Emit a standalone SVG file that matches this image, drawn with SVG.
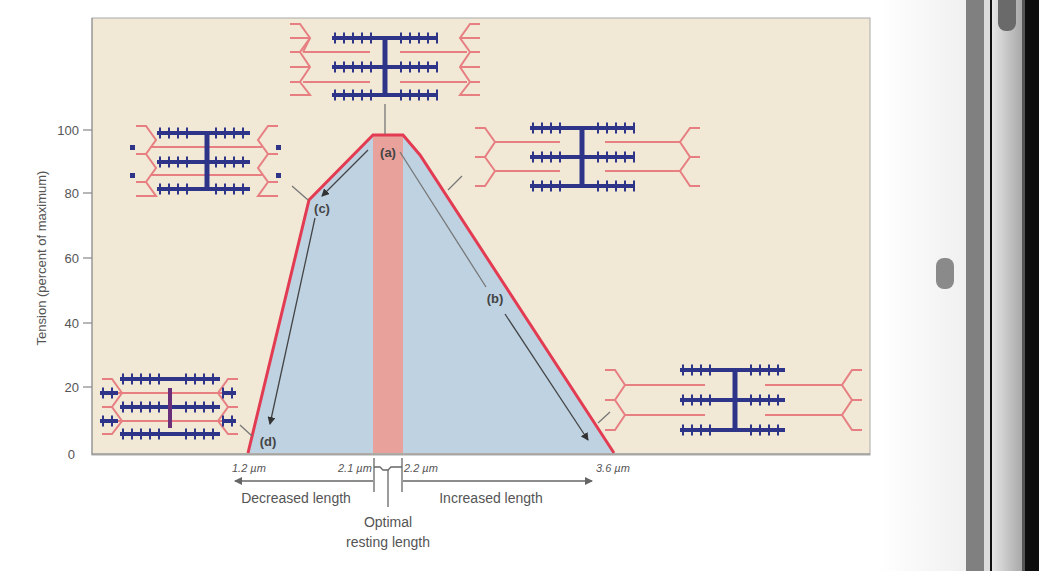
<svg xmlns="http://www.w3.org/2000/svg" width="1039" height="571" viewBox="0 0 1039 571">
<defs>
<style>
.t{font-family:"Liberation Sans",Arial,sans-serif;fill:#555}
.my{stroke:#2e3589;stroke-width:4;fill:none}
.hd{stroke:#2e3589;stroke-width:11;stroke-dasharray:2 7;fill:none}
.ac{stroke:#e77f82;stroke-width:2;fill:none}
.ml{stroke:#2e3589;stroke-width:5}
.gl{stroke:#777;stroke-width:1.3;fill:none}
.ar{stroke:#444;stroke-width:1.3;fill:none;marker-end:url(#ah)}
</style>
<marker id="ah" markerWidth="8" markerHeight="8" refX="7" refY="4" orient="auto" markerUnits="userSpaceOnUse"><path d="M0,0 L8,4 L0,8 Z" fill="#333"/></marker>
<marker id="ah2" markerWidth="8" markerHeight="8" refX="7" refY="4" orient="auto" markerUnits="userSpaceOnUse"><path d="M0,0 L8,4 L0,8 Z" fill="#666"/></marker>
<linearGradient id="fade" x1="0" x2="1"><stop offset="0" stop-color="#fff"/><stop offset="1" stop-color="#f0f0f0"/></linearGradient>
<linearGradient id="fr" x1="0" x2="1"><stop offset="0" stop-color="#e6e6e6"/><stop offset="1" stop-color="#a8a8a8"/></linearGradient>
</defs>
<rect width="1039" height="571" fill="#fff"/>
<rect x="880" width="86" height="571" fill="url(#fade)"/>
<rect x="966" width="18" height="571" fill="#808080"/>
<rect x="984" width="6" height="571" fill="#dcdcdc"/>
<rect x="990" width="2" height="571" fill="#111"/>
<rect x="992" width="30" height="571" fill="url(#fr)"/>
<rect x="1022" width="3" height="571" fill="#555"/>
<rect x="1025" width="14" height="571" fill="#0d0d0d"/>
<rect x="998" y="-10" width="18" height="41" rx="8" fill="#6a6a6a"/>
<rect x="936" y="258" width="18" height="31" rx="8" fill="#8a8a8a"/>

<g id="panel">
<rect x="92" y="18" width="778" height="437" fill="#f1e9d6" stroke="#aaa" stroke-width="1"/>
<polygon points="248,453 309,200 373,135 403,135 420,155 614,453" fill="#bed2e2"/>
<rect x="373" y="135" width="30" height="318" fill="#e9a19c"/>
<polyline points="248,453 309,200 373,135 403,135 420,155 614,453" fill="none" stroke="#e23b52" stroke-width="3"/>
<line x1="92" y1="454" x2="870" y2="454" stroke="#999" stroke-width="1.5"/>
</g>

<g id="axis">
<line x1="92" y1="18" x2="92" y2="455" stroke="#999" stroke-width="1.2"/>
<g stroke="#888" stroke-width="1.2">
<line x1="83" y1="130" x2="92" y2="130"/><line x1="83" y1="193" x2="92" y2="193"/><line x1="83" y1="258" x2="92" y2="258"/><line x1="83" y1="323" x2="92" y2="323"/><line x1="83" y1="387" x2="92" y2="387"/>
</g>
<g class="t" font-size="13" text-anchor="end">
<text x="79" y="135">100</text><text x="79" y="198">80</text><text x="79" y="263">60</text><text x="79" y="328">40</text><text x="79" y="392">20</text><text x="75" y="459">0</text>
</g>
<text class="t" font-size="13" text-anchor="middle" transform="translate(46,258) rotate(-90)">Tension (percent of maximum)</text>
</g>

<g id="sarc-a">
<polyline class="ac" points="290,24 300,24 310,38 300,52 310,67 300,82 310,95 300,95 290,95"/>
<polyline class="ac" points="300,52 290,52"/><polyline class="ac" points="300,82 290,82"/>
<polyline class="ac" points="310,38 303,52"/>
<line class="ac" x1="303" y1="52" x2="370" y2="52"/><line class="ac" x1="303" y1="82" x2="370" y2="82"/>
<polyline class="ac" points="480,24 470,24 460,38 470,52 460,67 470,82 460,95 470,95 480,95"/>
<polyline class="ac" points="470,52 480,52"/><polyline class="ac" points="470,82 480,82"/>
<line class="ac" x1="467" y1="52" x2="400" y2="52"/><line class="ac" x1="467" y1="82" x2="400" y2="82"/>
<line class="ac" x1="290" y1="38" x2="310" y2="38"/><line class="ac" x1="290" y1="67" x2="310" y2="67"/><line class="ac" x1="460" y1="38" x2="480" y2="38"/><line class="ac" x1="460" y1="67" x2="480" y2="67"/>
<g><line class="my" x1="332" y1="38" x2="438" y2="38"/><line class="my" x1="332" y1="67" x2="438" y2="67"/><line class="my" x1="332" y1="95" x2="438" y2="95"/>
<line class="hd" x1="334" y1="38" x2="372" y2="38"/><line class="hd" x1="400" y1="38" x2="438" y2="38"/>
<line class="hd" x1="334" y1="67" x2="372" y2="67"/><line class="hd" x1="400" y1="67" x2="438" y2="67"/>
<line class="hd" x1="334" y1="95" x2="372" y2="95"/><line class="hd" x1="400" y1="95" x2="438" y2="95"/>
<line class="ml" x1="385" y1="38" x2="385" y2="95"/></g>
<line class="gl" x1="385" y1="104" x2="385" y2="134"/>
</g>

<g id="sarc-c">
<polyline class="ac" points="136,126 146,126 156,140 146,154 156,168 146,182 156,196 146,196 136,196"/>
<line class="ac" x1="136" y1="154" x2="146" y2="154"/><line class="ac" x1="136" y1="182" x2="146" y2="182"/>
<line class="ac" x1="150" y1="147" x2="250" y2="147"/><line class="ac" x1="150" y1="175" x2="250" y2="175"/>
<polyline class="ac" points="278,126 268,126 258,140 268,154 258,168 268,182 258,196 268,196 278,196"/>
<line class="ac" x1="268" y1="154" x2="278" y2="154"/><line class="ac" x1="268" y1="182" x2="278" y2="182"/>
<line class="ac" x1="262" y1="147" x2="165" y2="147"/><line class="ac" x1="262" y1="175" x2="165" y2="175"/>
<line class="my" x1="157" y1="133" x2="250" y2="133"/><line class="my" x1="157" y1="162" x2="250" y2="162"/><line class="my" x1="157" y1="189" x2="250" y2="189"/>
<line class="hd" x1="159" y1="133" x2="195" y2="133"/><line class="hd" x1="215" y1="133" x2="250" y2="133"/>
<line class="hd" x1="159" y1="162" x2="195" y2="162"/><line class="hd" x1="215" y1="162" x2="250" y2="162"/>
<line class="hd" x1="159" y1="189" x2="195" y2="189"/><line class="hd" x1="215" y1="189" x2="250" y2="189"/>
<line class="ml" x1="207" y1="133" x2="207" y2="189"/>
<g fill="#2e3589"><rect x="130" y="145" width="5" height="5"/><rect x="130" y="173" width="5" height="5"/><rect x="276" y="145" width="5" height="5"/><rect x="276" y="173" width="5" height="5"/></g>
<line class="gl" x1="292" y1="186" x2="308" y2="200"/>
</g>

<g id="sarc-b">
<polyline class="ac" points="475,128 485,128 495,142 485,157 495,171 485,186 475,186"/>
<line class="ac" x1="475" y1="157" x2="485" y2="157"/>
<line class="ac" x1="495" y1="142" x2="560" y2="142"/><line class="ac" x1="495" y1="171" x2="560" y2="171"/>
<polyline class="ac" points="700,128 690,128 680,142 690,157 680,171 690,186 700,186"/>
<line class="ac" x1="690" y1="157" x2="700" y2="157"/>
<line class="ac" x1="680" y1="142" x2="605" y2="142"/><line class="ac" x1="680" y1="171" x2="605" y2="171"/>
<line class="my" x1="530" y1="128" x2="635" y2="128"/><line class="my" x1="530" y1="157" x2="635" y2="157"/><line class="my" x1="530" y1="186" x2="635" y2="186"/>
<line class="hd" x1="532" y1="128" x2="568" y2="128"/><line class="hd" x1="597" y1="128" x2="635" y2="128"/>
<line class="hd" x1="532" y1="157" x2="568" y2="157"/><line class="hd" x1="597" y1="157" x2="635" y2="157"/>
<line class="hd" x1="532" y1="186" x2="568" y2="186"/><line class="hd" x1="597" y1="186" x2="635" y2="186"/>
<line class="ml" x1="582" y1="128" x2="582" y2="186"/>
<line class="gl" x1="448" y1="190" x2="462" y2="176"/>
</g>

<g id="sarc-far">
<polyline class="ac" points="605,370 615,370 625,385 615,400 625,415 615,430 605,430"/>
<line class="ac" x1="605" y1="400" x2="615" y2="400"/>
<line class="ac" x1="625" y1="385" x2="705" y2="385"/><line class="ac" x1="625" y1="415" x2="705" y2="415"/>
<polyline class="ac" points="862,370 852,370 842,385 852,400 842,415 852,430 862,430"/>
<line class="ac" x1="852" y1="400" x2="862" y2="400"/>
<line class="ac" x1="842" y1="385" x2="765" y2="385"/><line class="ac" x1="842" y1="415" x2="765" y2="415"/>
<line class="my" x1="680" y1="370" x2="785" y2="370"/><line class="my" x1="680" y1="400" x2="785" y2="400"/><line class="my" x1="680" y1="430" x2="785" y2="430"/>
<line class="hd" x1="682" y1="370" x2="718" y2="370"/><line class="hd" x1="750" y1="370" x2="785" y2="370"/>
<line class="hd" x1="682" y1="400" x2="718" y2="400"/><line class="hd" x1="750" y1="400" x2="785" y2="400"/>
<line class="hd" x1="682" y1="430" x2="718" y2="430"/><line class="hd" x1="750" y1="430" x2="785" y2="430"/>
<line class="ml" x1="735" y1="370" x2="735" y2="430"/>
<line class="gl" x1="598" y1="423" x2="610" y2="412"/>
</g>

<g id="sarc-d">
<polyline class="ac" points="102,379 112,379 122,393 112,407 122,421 112,434 102,434"/>
<line class="ac" x1="102" y1="407" x2="112" y2="407"/>
<line class="ac" x1="118" y1="393" x2="235" y2="393"/><line class="ac" x1="118" y1="421" x2="235" y2="421"/>
<polyline class="ac" points="238,379 228,379 218,393 228,407 218,421 228,434 238,434"/>
<line class="ac" x1="228" y1="407" x2="238" y2="407"/>
<line class="my" x1="120" y1="379" x2="220" y2="379"/><line class="my" x1="120" y1="407" x2="220" y2="407"/><line class="my" x1="120" y1="434" x2="220" y2="434"/>
<line class="hd" x1="122" y1="379" x2="160" y2="379"/><line class="hd" x1="185" y1="379" x2="220" y2="379"/>
<line class="hd" x1="122" y1="407" x2="160" y2="407"/><line class="hd" x1="185" y1="407" x2="220" y2="407"/>
<line class="hd" x1="122" y1="434" x2="160" y2="434"/><line class="hd" x1="185" y1="434" x2="220" y2="434"/>
<line class="my" x1="100" y1="393" x2="118" y2="393"/><line class="hd" x1="102" y1="393" x2="118" y2="393"/>
<line class="my" x1="100" y1="421" x2="118" y2="421"/><line class="hd" x1="102" y1="421" x2="118" y2="421"/>
<line class="my" x1="222" y1="393" x2="236" y2="393"/><line class="hd" x1="222" y1="393" x2="236" y2="393"/>
<line class="my" x1="222" y1="421" x2="236" y2="421"/><line class="hd" x1="222" y1="421" x2="236" y2="421"/>
<line x1="170" y1="388" x2="170" y2="428" stroke="#6a2f7a" stroke-width="4"/>
<line class="gl" x1="240" y1="425" x2="252" y2="436"/>
</g>

<g id="connectors">
<line class="ar" x1="368" y1="150" x2="322" y2="196"/>
<line class="ar" x1="315" y1="218" x2="270" y2="424"/>
<line class="gl" x1="400" y1="152" x2="486" y2="287"/>
<line class="ar" x1="505" y1="314" x2="588" y2="440"/>
</g>

<g id="labels" class="t" font-size="13" font-weight="bold">
<text x="388" y="157" text-anchor="middle" fill="#444">(a)</text>
<text x="322" y="213" text-anchor="middle" fill="#444">(c)</text>
<text x="495" y="303" text-anchor="middle" fill="#444">(b)</text>
<text x="268" y="446" text-anchor="middle" fill="#444">(d)</text>
</g>

<g id="bottom">
<g class="t" font-size="11" font-style="italic">
<text x="232" y="472">1.2 µm</text><text x="338" y="472">2.1 µm</text><text x="404" y="472">2.2 µm</text><text x="596" y="472">3.6 µm</text>
</g>
<line x1="373" y1="481" x2="235" y2="481" stroke="#666" stroke-width="1.3" marker-end="url(#ah2)"/>
<line x1="403" y1="481" x2="592" y2="481" stroke="#666" stroke-width="1.3" marker-end="url(#ah2)"/>
<g stroke="#666" stroke-width="1.3" fill="none">
<line x1="374" y1="458" x2="374" y2="492"/><line x1="402" y1="458" x2="402" y2="492"/>
<polyline points="374,467 380,467 383,470 388,470 391,467 402,467"/>
<line x1="388" y1="470" x2="388" y2="507"/>
</g>
<g class="t" font-size="14" text-anchor="middle">
<text x="296" y="503">Decreased length</text><text x="491" y="503">Increased length</text>
<text x="388" y="527">Optimal</text><text x="388" y="547">resting length</text>
</g>
</g>
</svg>
